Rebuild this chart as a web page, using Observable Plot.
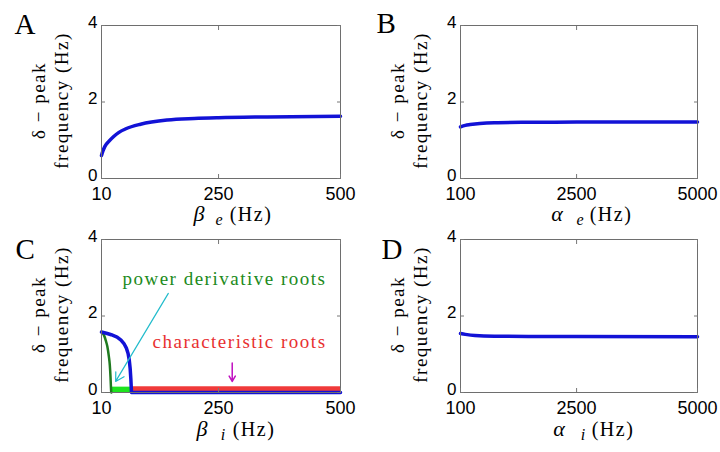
<!DOCTYPE html>
<html>
<head>
<meta charset="utf-8">
<script src="https://cdn.jsdelivr.net/npm/d3@7"></script>
<script src="https://cdn.jsdelivr.net/npm/@observablehq/plot@0.6"></script>
<style>
  html, body { margin: 0; padding: 0; background: #fff; }
  #root { position: relative; width: 720px; height: 452px; overflow: hidden; }
  .panel { position: absolute; width: 360px; height: 226px; }
</style>
</head>
<body>
<div id="root"></div>
<script>
// ---------- data ----------
const yTicks = [0, 2, 4];
const betaTicks = [10, 250, 500];
const alphaTicks = [100, 2500, 5000];

// Panel A: peak frequency vs beta_e
const aBeta = [10, 13, 17, 25, 35, 45, 60, 90, 145, 200, 250, 350, 500];
const aFreq = [0.60, 0.72, 0.84, 0.97, 1.10, 1.20, 1.30, 1.42, 1.53, 1.57, 1.59, 1.61, 1.63];

// Panel B: peak frequency vs alpha_e
const bAlpha = [100, 200, 300, 500, 800, 1500, 2500, 5000];
const bFreq = [1.35, 1.39, 1.41, 1.44, 1.46, 1.47, 1.475, 1.48];

// Panel C: peak frequency vs beta_i
const cBlueBeta = [10, 20, 30, 42, 50, 56, 61, 64.5, 67, 68.8, 70.2, 71.5, 500];
const cBlueFreq = [1.58, 1.55, 1.51, 1.45, 1.37, 1.28, 1.16, 1.02, 0.84, 0.62, 0.35, 0, 0];
const cGreenBeta = [10, 15, 19, 22, 25, 27, 28.5, 29.5, 30];
const cGreenFreq = [1.58, 1.50, 1.35, 1.20, 0.95, 0.72, 0.40, 0.10, 0];
const cPowerBand = [30, 70, 0.14];      // beta from, beta to, height
const cCharBand = [72, 500, 0.15];
const cArrowPower = [147, 2.59, 39, 0.29];
const cArrowChar = [278, 0.77, 278, 0.29];
const cLabelPower = ["power derivative roots", 262, 2.98];
const cLabelChar = ["characteristic roots", 293, 1.31];

// Panel D: peak frequency vs alpha_i
const dAlpha = [100, 200, 400, 800, 1500, 2500, 5000];
const dFreq = [1.54, 1.52, 1.49, 1.47, 1.465, 1.462, 1.46];

const yLabel = "δ − peak\nfrequency (Hz)";

// ---------- helpers ----------
const BLUE = "#1212d6";
const serif = "Liberation Serif, Times New Roman, serif";
const serifWide = "Liberation Serif, serif";   // letter-spaced serif (CM look)
const sans = "Liberation Sans, Arial, Helvetica, sans-serif";
const fmt = d => String(d);

function pts(xs, ys) { return xs.map((x, i) => ({x, y: ys[i]})); }

function panel({left, top, xDomain, xTicks, margin, letter, letterPos, sym, sub, labelDx, labelDy, marks}) {
  const [mt, mr, mb, ml] = margin;
  const chart = Plot.plot({
    width: 360,
    height: 226,
    marginTop: mt, marginRight: mr, marginBottom: mb, marginLeft: ml,
    style: {background: "transparent", overflow: "visible"},
    x: {domain: xDomain},
    y: {domain: [0, 4]},
    marks: [
      ...marks,
      Plot.frame({stroke: "#6e6e6e", strokeWidth: 1}),
      Plot.axisX({ticks: xTicks, tickFormat: fmt, anchor: "bottom", tickSize: -4, tickPadding: 13, label: null,
        fontSize: 18, fontFamily: sans, fill: "#000", stroke: "#777"}),
      Plot.axisX({ticks: xTicks, anchor: "top", tickSize: -4, label: null, tickFormat: () => "", stroke: "#777"}),
      Plot.axisY({ticks: yTicks, tickFormat: fmt, anchor: "left", tickSize: 0, tickPadding: 4, label: null,
        dy: -3, fontSize: 17, fontFamily: sans, fill: "#000"}),
      Plot.axisY({ticks: yTicks, anchor: "left", tickSize: -4, label: null, tickFormat: () => "", stroke: "#777"}),
      Plot.axisY({ticks: yTicks, anchor: "right", tickSize: -4, label: null, tickFormat: () => "", stroke: "#777"}),
      // y label (two lines, rotated)
      Plot.text([yLabel], {text: d => d, frameAnchor: "left", textAnchor: "middle", rotate: -90,
        dx: -52, dy: -1.5, fontSize: 19, lineHeight: 1.2, fontFamily: serifWide, fill: "#000"}),
      // x label: symbol, subscript, unit
      Plot.text([sym], {text: d => d, frameAnchor: "bottom", dx: labelDx[0], dy: labelDy, fontSize: 22,
        fontStyle: "italic", fontFamily: serif, fill: "#000"}),
      Plot.text([sub], {text: d => d, frameAnchor: "bottom", dx: labelDx[1], dy: labelDy + 4, fontSize: 16,
        fontStyle: "italic", fontFamily: serif, fill: "#000"}),
      Plot.text(["(Hz)"], {text: d => d, frameAnchor: "bottom", dx: labelDx[2], dy: labelDy, fontSize: 20,
        fontFamily: serifWide, fill: "#000"}),
      // panel letter
      Plot.text([letter], {text: d => d, frameAnchor: "top-left", dx: letterPos[0], dy: letterPos[1],
        fontSize: 29, fontFamily: serif, fill: "#000"})
    ]
  });
  d3.select(chart).selectAll("g").filter(function() {
    return this.getAttribute("font-family") === serifWide;
  }).style("letter-spacing", "1.5px");
  const div = document.createElement("div");
  div.className = "panel";
  div.style.left = left + "px";
  div.style.top = top + "px";
  div.appendChild(chart);
  document.getElementById("root").appendChild(div);
}

const lineOpts = {x: "x", y: "y", stroke: BLUE, strokeWidth: 3.5, curve: "monotone-x"};

// A
panel({
  left: 0, top: 0, xDomain: [10, 500], xTicks: betaTicks, margin: [25, 20, 48, 101],
  letter: "A", letterPos: [-87, -12], sym: "β", sub: "e", labelDx: [-22, -2, 30], labelDy: 42,
  marks: [Plot.line(pts(aBeta, aFreq), lineOpts)]
});

// B
panel({
  left: 360, top: 0, xDomain: [100, 5000], xTicks: alphaTicks, margin: [25, 23, 48, 100],
  letter: "B", letterPos: [-84, -13], sym: "α", sub: "e", labelDx: [-22, 1, 32], labelDy: 42,
  marks: [Plot.line(pts(bAlpha, bFreq), lineOpts)]
});

// C
panel({
  left: 0, top: 226, xDomain: [10, 500], xTicks: betaTicks, margin: [13, 20, 60, 101],
  letter: "C", letterPos: [-86, -1], sym: "β", sub: "i", labelDx: [-19, 2, 33], labelDy: 43,
  marks: [
    Plot.rect([cCharBand], {x1: d => d[0], x2: d => d[1], y1: 0, y2: d => d[2], fill: "#f03a3a"}),
    Plot.rect([cPowerBand], {x1: d => d[0], x2: d => d[1], y1: 0, y2: d => d[2], fill: "#1ee41e"}),
    Plot.line(pts(cGreenBeta, cGreenFreq), {x: "x", y: "y", stroke: "#1f7a1f", strokeWidth: 2.5, curve: "monotone-x"}),
    Plot.line(pts(cBlueBeta, cBlueFreq), {...lineOpts, curve: "linear", strokeLinejoin: "round"}),
    Plot.arrow([cArrowPower], {x1: d => d[0], y1: d => d[1], x2: d => d[2], y2: d => d[3],
      stroke: "#22bccc", strokeWidth: 1.2, headLength: 12}),
    Plot.arrow([cArrowChar], {x1: d => d[0], y1: d => d[1], x2: d => d[2], y2: d => d[3],
      stroke: "#c010c0", strokeWidth: 1.5, headLength: 10}),
    Plot.text([cLabelPower], {x: d => d[1], y: d => d[2], text: d => d[0], fill: "#208a20",
      fontSize: 19, fontFamily: serifWide}),
    Plot.text([cLabelChar], {x: d => d[1], y: d => d[2], text: d => d[0], fill: "#e83030",
      fontSize: 19, fontFamily: serifWide})
  ]
});

// D
panel({
  left: 360, top: 226, xDomain: [100, 5000], xTicks: alphaTicks, margin: [13, 23, 60, 100],
  letter: "D", letterPos: [-79, -1], sym: "α", sub: "i", labelDx: [-20, 4, 34], labelDy: 43,
  marks: [Plot.line(pts(dAlpha, dFreq), lineOpts)]
});
</script>
</body>
</html>
